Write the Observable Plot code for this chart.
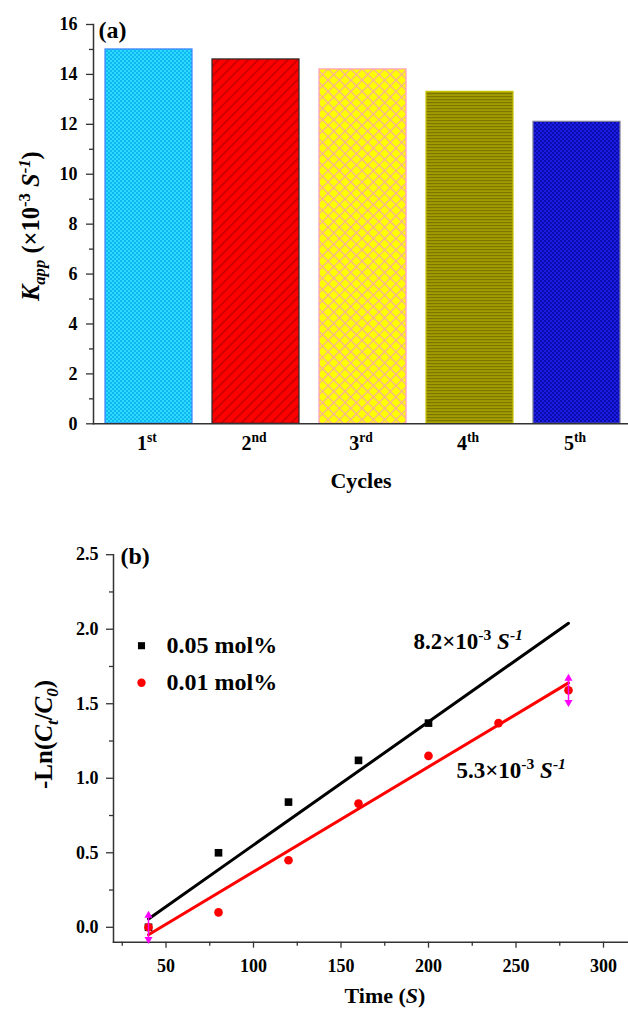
<!DOCTYPE html>
<html><head><meta charset="utf-8">
<script src="https://cdn.jsdelivr.net/npm/d3@7"></script>
<script src="https://cdn.jsdelivr.net/npm/@observablehq/plot@0.6"></script>
<style>
html,body{margin:0;padding:0;background:#fff;overflow:hidden;}
#a,#b{width:628px;}
</style></head><body>
<svg width="0" height="0" style="position:absolute">
  <defs>
    <pattern id="pat1" width="4" height="4" patternUnits="userSpaceOnUse">
      <rect width="4" height="4" fill="#2adcff"/>
      <rect width="2" height="2" fill="#12b4f2"/>
      <rect x="2" y="2" width="2" height="2" fill="#12b4f2"/>
    </pattern>
    <pattern id="pat2" width="7" height="7" patternUnits="userSpaceOnUse" patternTransform="rotate(45)">
      <rect width="7" height="7" fill="#ff0000"/>
      <rect width="1.6" height="7" fill="#c40000"/>
    </pattern>
    <pattern id="pat3" width="8" height="8" patternUnits="userSpaceOnUse" patternTransform="rotate(45)">
      <rect width="8" height="8" fill="#ffff00"/>
      <rect width="1.3" height="8" fill="#f7b09a"/>
      <rect width="8" height="1.3" fill="#f7b09a"/>
    </pattern>
    <pattern id="pat4" width="3" height="3" patternUnits="userSpaceOnUse">
      <rect width="3" height="3" fill="#a29c00"/>
      <rect width="3" height="1.2" fill="#7c7700"/>
    </pattern>
    <pattern id="pat5" width="4" height="4" patternUnits="userSpaceOnUse">
      <rect width="4" height="4" fill="#1c1ce2"/>
      <rect width="2" height="2" fill="#0a0cae"/>
      <rect x="2" y="2" width="2" height="2" fill="#0a0cae"/>
    </pattern>
  </defs>
</svg>
<div id="a"></div>
<div id="b"></div>
<script>
// ---------- Panel (a) data ----------
const cycles = ["1st", "2nd", "3rd", "4th", "5th"];
const kapp = [15.0, 14.6, 14.2, 13.3, 12.1];
const kappTicks = [0, 2, 4, 6, 8, 10, 12, 14, 16];
const kappMinorTicks = [1, 3, 5, 7, 9, 11, 13, 15];
const xLabelA = "Cycles";
const yLabelA = "~{K}_[app] (×10^{-3} ~{S}^[-1])";

// ---------- Panel (b) data ----------
const seriesNames = ["0.05 mol%", "0.01 mol%"];
const timeHigh = [40, 80, 120, 160, 200];
const lnHigh = [0.0, 0.50, 0.84, 1.12, 1.37];
const timeLow = [40, 80, 120, 160, 200, 240, 280];
const lnLow = [0.0, 0.10, 0.45, 0.83, 1.15, 1.37, 1.59];
const fitTime = [40, 280];
const fitHigh = [0.056, 2.04];
const fitLow = [-0.05, 1.64];
const markerTime = [40, 280];
const markerLn = [0.0, 1.59];
const rateLabels = ["8.2×10^{-3} ~{S}^[-1]", "5.3×10^{-3} ~{S}^[-1]"];
const timeTicks = [50, 100, 150, 200, 250, 300];
const timeMinorTicks = [25, 75, 125, 175, 225, 275];
const lnTicks = [0, 0.5, 1.0, 1.5, 2.0, 2.5];
const lnMinorTicks = [0.25, 0.75, 1.25, 1.75, 2.25];
const xLabelB = "Time (~{S})";
const yLabelB = "-Ln(~{C}_[t]/~{C}_[0])";
const panelTags = ["(a)", "(b)"];

// ---------- styles ----------
const barFills = ["url(#pat1)", "url(#pat2)", "url(#pat3)", "url(#pat4)", "url(#pat5)"];
const barStrokes = ["#3c82ff", "#2a2a2a", "#ff9cc0", "#c8c200", "#7a7a9a"];
const FONT = "'Liberation Serif', 'Times New Roman', serif";
const AXIS = "#333";

// rich text: ^{sup} ^[italic sup] _{sub} _[italic sub] ~{italic}
function richify(svg) {
  d3.select(svg).selectAll("text").each(function () {
    const t = this.textContent;
    if (!/[\^_~][\{\[]/.test(t)) return;
    const fs = parseFloat(getComputedStyle(this).fontSize) || 16;
    const segs = [];
    const re = /([\^_~])([\{\[])(.*?)[\}\]]/g;
    let last = 0, m;
    while ((m = re.exec(t))) {
      if (m.index > last) segs.push({text: t.slice(last, m.index), type: "n", it: false});
      const type = m[1] === "^" ? "sup" : m[1] === "_" ? "sub" : "n";
      segs.push({text: m[3], type, it: m[1] === "~" || m[2] === "["});
      last = re.lastIndex;
    }
    if (last < t.length) segs.push({text: t.slice(last), type: "n", it: false});
    const el = d3.select(this);
    el.selectAll("*").remove();
    this.textContent = "";
    let shift = 0;
    for (const s of segs) {
      const ts = el.append("tspan").text(s.text);
      const target = s.type === "sup" ? -0.4 * fs : s.type === "sub" ? 0.25 * fs : 0;
      if (target !== shift) { ts.attr("dy", target - shift); shift = target; }
      if (s.type !== "n") ts.attr("font-size", (0.68 * fs).toFixed(1));
      if (s.it) ts.attr("font-style", "italic");
    }
  });
}
const supify = (d) => d.replace(/^(\d+)(\D+)$/, "$1^{$2}");
const T = {textAnchor: "middle", lineAnchor: "middle", fill: "#000"};
const TS = {textAnchor: "start", lineAnchor: "middle", fill: "#000"};

// ---------- Panel (a) ----------
const plotA = Plot.plot({
  width: 628, height: 500,
  marginTop: 24, marginBottom: 76.7, marginLeft: 93, marginRight: 0,
  style: {fontFamily: FONT, fontWeight: "bold", fontSize: "17px", color: "#000", background: "#fff"},
  x: {domain: cycles, range: [93, 631], paddingInner: 0.19, paddingOuter: 0.1, axis: null},
  y: {domain: [0, 16]},
  color: {type: "identity"},
  marks: [
    Plot.barY(cycles, {x: d => d, y: (d, i) => kapp[i], fill: (d, i) => barFills[i], stroke: (d, i) => barStrokes[i], strokeWidth: 1.2}),
    Plot.frame({anchor: "left", stroke: AXIS, strokeWidth: 1.5}),
    Plot.frame({anchor: "bottom", stroke: AXIS, strokeWidth: 1.5}),
    Plot.axisY(kappTicks, {tickSize: 7, tickPadding: 9, fontSize: 18, label: null, stroke: AXIS, strokeWidth: 1.3, fill: "#000"}),
    Plot.axisY(kappMinorTicks, {tickSize: 4, tickFormat: () => "", label: null, stroke: AXIS, strokeWidth: 1.3}),
    Plot.text(cycles, {...T, x: d => d, frameAnchor: "bottom", dy: 20, dx: -2, text: d => supify(d), fontSize: 20}),
    Plot.text([xLabelA], {...T, frameAnchor: "bottom", dy: 57, text: d => d, fontSize: 22}),
    Plot.text([panelTags[0]], {...TS, frameAnchor: "top-left", dx: 5, dy: 6, text: d => d, fontSize: 24}),
    Plot.text([yLabelA], {...T, frameAnchor: "left", rotate: -90, dx: -62, dy: 2, text: d => d, fontSize: 24.5})
  ]
});
document.getElementById("a").appendChild(plotA);
richify(plotA);

// ---------- Panel (b) ----------
const idxHigh = d3.range(timeHigh.length);
const idxLow = d3.range(timeLow.length);
const idxFit = d3.range(fitTime.length);
const idxMark = d3.range(markerTime.length);
const plotB = Plot.plot({
  width: 628, height: 510,
  marginTop: 54.2, marginBottom: 68.3, marginLeft: 113, marginRight: 0,
  style: {fontFamily: FONT, fontWeight: "bold", fontSize: "17px", color: "#000", background: "#fff"},
  x: {domain: [20, 320], range: [113, 638]},
  y: {domain: [-0.1, 2.5]},
  marks: [
    Plot.frame({anchor: "left", stroke: AXIS, strokeWidth: 1.5}),
    Plot.frame({anchor: "bottom", stroke: AXIS, strokeWidth: 1.5}),
    Plot.axisX(timeTicks, {tickSize: 6, tickPadding: 11, fontSize: 18, label: null, stroke: AXIS, strokeWidth: 1.3, fill: "#000"}),
    Plot.axisX(timeMinorTicks, {tickSize: 4, tickFormat: () => "", label: null, stroke: AXIS, strokeWidth: 1.3}),
    Plot.axisY(lnTicks, {tickSize: 7, tickPadding: 8, fontSize: 18, label: null, tickFormat: d3.format(".1f"), stroke: AXIS, strokeWidth: 1.3, fill: "#000"}),
    Plot.axisY(lnMinorTicks, {tickSize: 4, tickFormat: () => "", label: null, stroke: AXIS, strokeWidth: 1.3}),
    Plot.line(idxFit, {x: i => fitTime[i], y: i => fitHigh[i], stroke: "#000", strokeWidth: 3}),
    Plot.line(idxFit, {x: i => fitTime[i], y: i => fitLow[i], stroke: "#ff0000", strokeWidth: 3}),
    Plot.dot(idxHigh, {x: i => timeHigh[i], y: i => lnHigh[i], symbol: "square", r: 4.3, fill: "#000", stroke: "none"}),
    Plot.dot(idxLow, {x: i => timeLow[i], y: i => lnLow[i], symbol: "circle", r: 4.3, fill: "#ff0000", stroke: "none"}),
    Plot.ruleX(idxMark, {x: i => markerTime[i], y1: i => markerLn[i] - 0.08, y2: i => markerLn[i] + 0.08, stroke: "#ff00ff", strokeWidth: 1.5}),
    Plot.dot(idxMark, {x: i => markerTime[i], y: i => markerLn[i] + 0.08, symbol: "triangle", r: 3, fill: "#ff00ff", stroke: "none"}),
    Plot.dot(idxMark, {x: i => markerTime[i], y: i => markerLn[i] - 0.08, symbol: "triangle", rotate: 180, r: 3, fill: "#ff00ff", stroke: "none"}),
    // legend
    Plot.dot([seriesNames[0]], {frameAnchor: "top-left", dx: 28, dy: 91, symbol: "square", r: 4, fill: "#000", stroke: "none"}),
    Plot.dot([seriesNames[1]], {frameAnchor: "top-left", dx: 28, dy: 128, symbol: "circle", r: 4.2, fill: "#ff0000", stroke: "none"}),
    Plot.text([seriesNames[0]], {...TS, frameAnchor: "top-left", dx: 53, dy: 91, text: d => d, fontSize: 24}),
    Plot.text([seriesNames[1]], {...TS, frameAnchor: "top-left", dx: 53, dy: 128, text: d => d, fontSize: 24}),
    // rate annotations
    Plot.text([rateLabels[0]], {...TS, frameAnchor: "top-left", dx: 300, dy: 87, text: d => d, fontSize: 23}),
    Plot.text([rateLabels[1]], {...TS, frameAnchor: "top-left", dx: 343, dy: 216, text: d => d, fontSize: 23}),
    // labels
    Plot.text([panelTags[1]], {...TS, frameAnchor: "top-left", dx: 7, dy: 2, text: d => d, fontSize: 24}),
    Plot.text([xLabelB], {...T, frameAnchor: "bottom", dx: 14, dy: 54, text: d => d, fontSize: 22}),
    Plot.text([yLabelB], {...T, frameAnchor: "left", rotate: -90, dx: -70, dy: -14, text: d => d, fontSize: 25})
  ]
});
document.getElementById("b").appendChild(plotB);
richify(plotB);
</script>
</body></html>
